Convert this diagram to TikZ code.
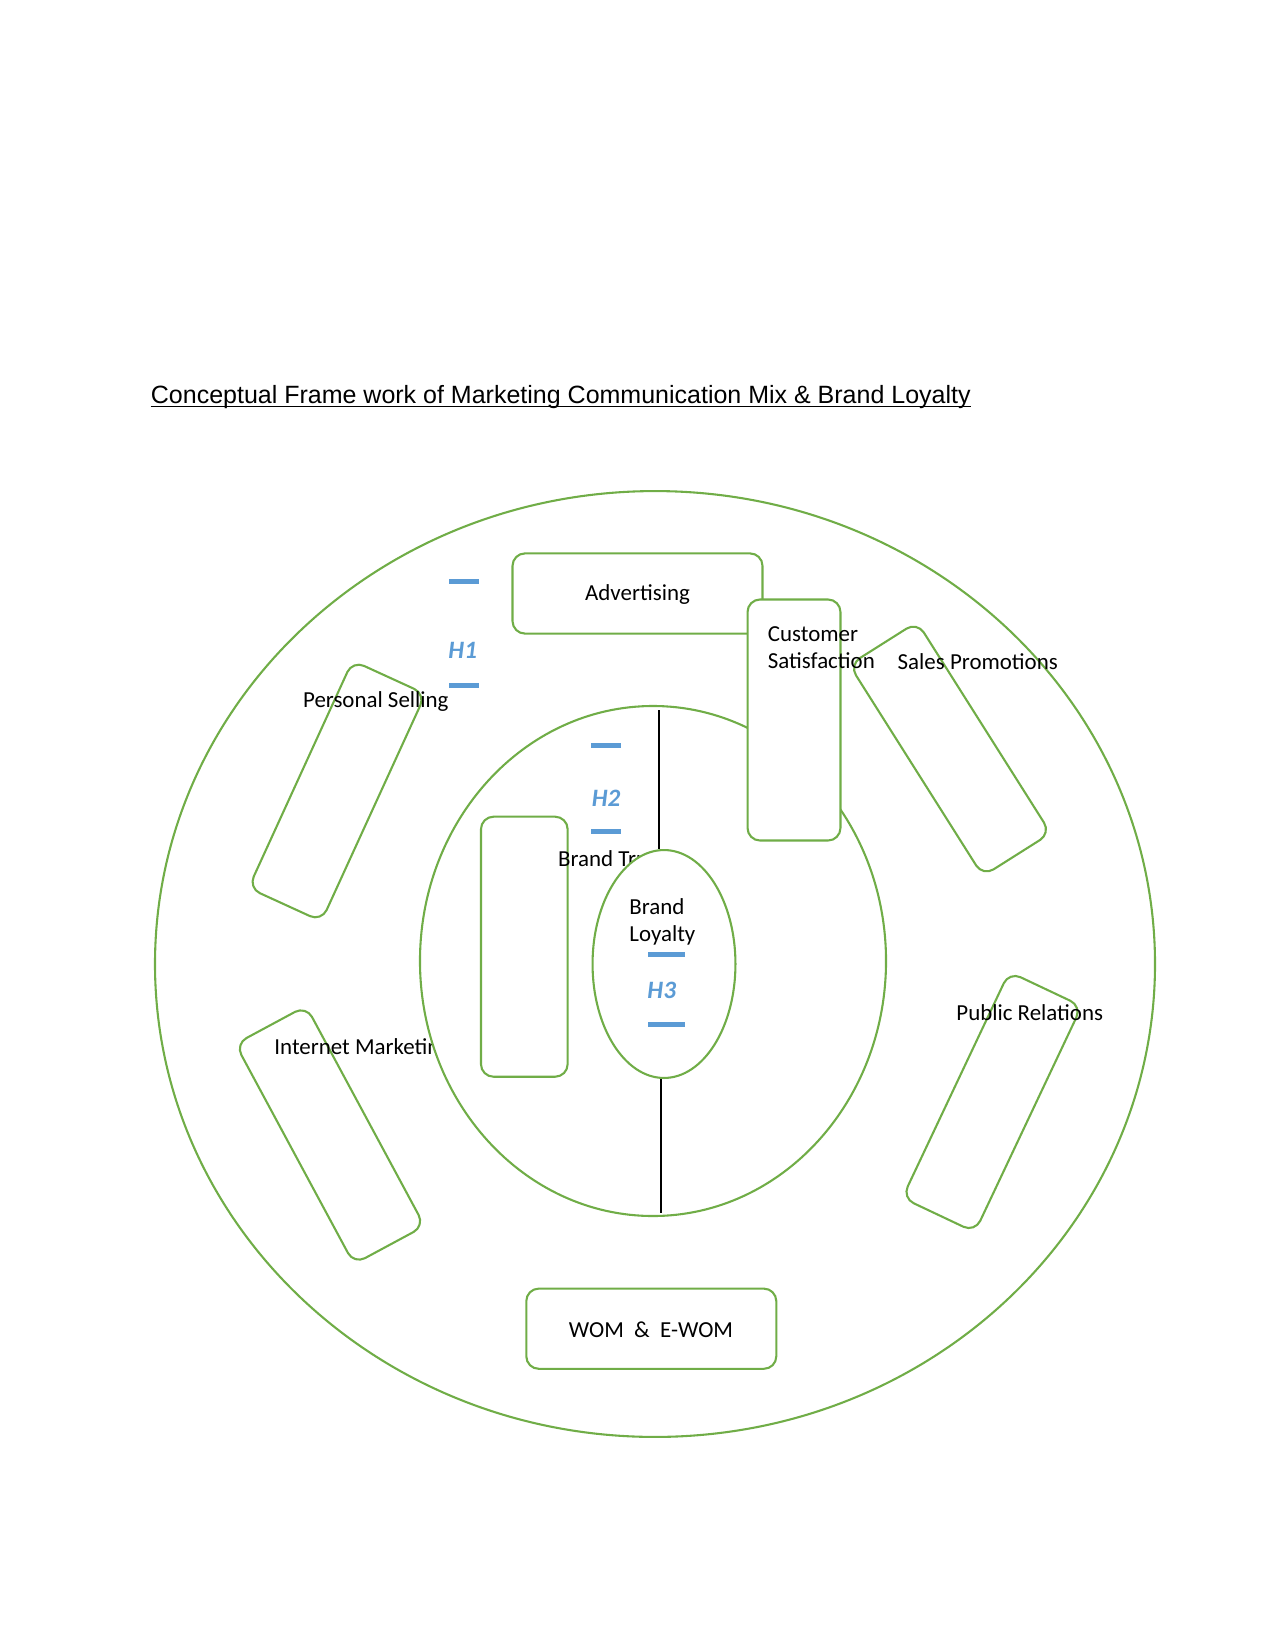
\documentclass[tikz,border=0pt]{standalone}
\usepackage{fontspec}
\setmainfont{Carlito}
\newfontfamily\titlefont{Liberation Sans}
\usepackage{tikz}
\usetikzlibrary{shapes.geometric, positioning}
\definecolor{leaf}{HTML}{70AD47}
\definecolor{hblue}{HTML}{5B9BD5}

\begin{document}
\begin{tikzpicture}[
    x=0.48pt, y=-0.48pt,
    ring/.style = {ellipse, draw=leaf, line width=1pt, inner sep=0pt},
    mixbox/.style = {rectangle, draw=leaf, line width=1pt, rounded corners=6pt, minimum width=120pt, minimum height=38.5pt, inner sep=0pt},
    tallbox/.style = {rectangle, draw=leaf, fill=white, line width=1pt, rounded corners=6pt, inner sep=0pt},
    lbl/.style = {font=\fontsize{11}{13}\selectfont, inner sep=0pt, align=left},
    hbar/.style = {rectangle, fill=hblue, minimum width=14.4pt, minimum height=2.4pt, inner sep=0pt},
    hlbl/.style = {text=hblue, font=\fontsize{12}{14}\selectfont\bfseries\itshape, inner sep=0pt}
]
\useasboundingbox (0, 0) rectangle (1275, 1651);

% Title (underlined)
\node (title) [anchor=base west, inner sep=0pt, font=\titlefont\fontsize{12}{14}\selectfont] at (150.5, 403) {Conceptual Frame work of Marketing Communication Mix \& Brand Loyalty};
\draw [line width=0.6pt] ([yshift=-1.8pt]title.base west) -- ([yshift=-1.8pt]title.base east);

% Outer ring: the communication mix
\node (outer) [ring, minimum width=480pt, minimum height=454pt] at (655, 964) {};

\node (adv) [mixbox] at (637.5, 593.5) {};
\node (sell) [mixbox, rotate=65.4] at (337, 791) {};
\node (sales) [mixbox, rotate=122.3] at (950, 749) {};
\node (inet) [mixbox, rotate=118.3] at (330, 1135) {};
\node (pr) [mixbox, rotate=64.7] at (992, 1102) {};
\node (wom) [mixbox] at (651.3, 1328.7) {};

\node (advtxt) [lbl] at (637.5, 595) {Advertising};
\node (selltxt) [lbl, anchor=west] at (302.7, 701.7) {Personal Selling};
\node (salestxt) [lbl, anchor=west] at (897.3, 661.7) {Sales Promotions};
\node (inettxt) [lbl, anchor=west] at (274, 1048.3) {Internet Marketing};
\node (prtxt) [lbl, anchor=west] at (956, 1012.7) {Public Relations};
\node (womtxt) [lbl] at (651, 1330) {WOM\ \ \&\ \ E-WOM};

% H1
\node (h1top) [hbar] at (464, 581.7) {};
\node (h1) [hlbl] at (462.7, 650) {H1};
\node (h1bot) [hbar] at (464, 685) {};

% Inner ring: mediators
\node (inner) [ring, fill=white, minimum width=223.7pt, minimum height=244.8pt] at (653, 961) {};
\node (trust) [tallbox, fill=none, minimum width=41.6pt, minimum height=124.8pt] at (524.3, 946.7) {};
\node (trusttxt) [lbl, anchor=base west] at (557.7, 866.7) {Brand Trust};

% H2
\node (h2top) [hbar] at (606, 745.7) {};
\node (h2) [hlbl] at (606, 798.3) {H2};
\node (h2bot) [hbar] at (606, 831.7) {};

% Core: brand loyalty
\node (loyal) [ring, fill=white, minimum width=68.6pt, minimum height=109.4pt] at (664, 964) {};
\node (loyaltxt) [lbl, anchor=north west] at (629, 898) {Brand\\Loyalty};
\coordinate (axtop) at (659, 710);
\coordinate (axbot) at (661, 1213);
\draw [line width=1.4pt] (axtop) -- (axtop |- loyal.north);
\draw [line width=0.9pt] (axbot |- loyal.south) -- (axbot);

% H3
\node (h3top) [hbar, minimum width=17.6pt] at (666.7, 954.3) {};
\node (h3) [hlbl] at (661.7, 990) {H3};
\node (h3bot) [hbar, minimum width=17.6pt] at (666.7, 1024) {};

% Customer satisfaction (on top)
\node (cust) [tallbox, minimum width=44.6pt, minimum height=115.7pt] at (794, 720) {};
\node (custtxt) [lbl, anchor=north west] at (767.5, 626) {Customer\\Satisfaction};

\end{tikzpicture}
\end{document}
